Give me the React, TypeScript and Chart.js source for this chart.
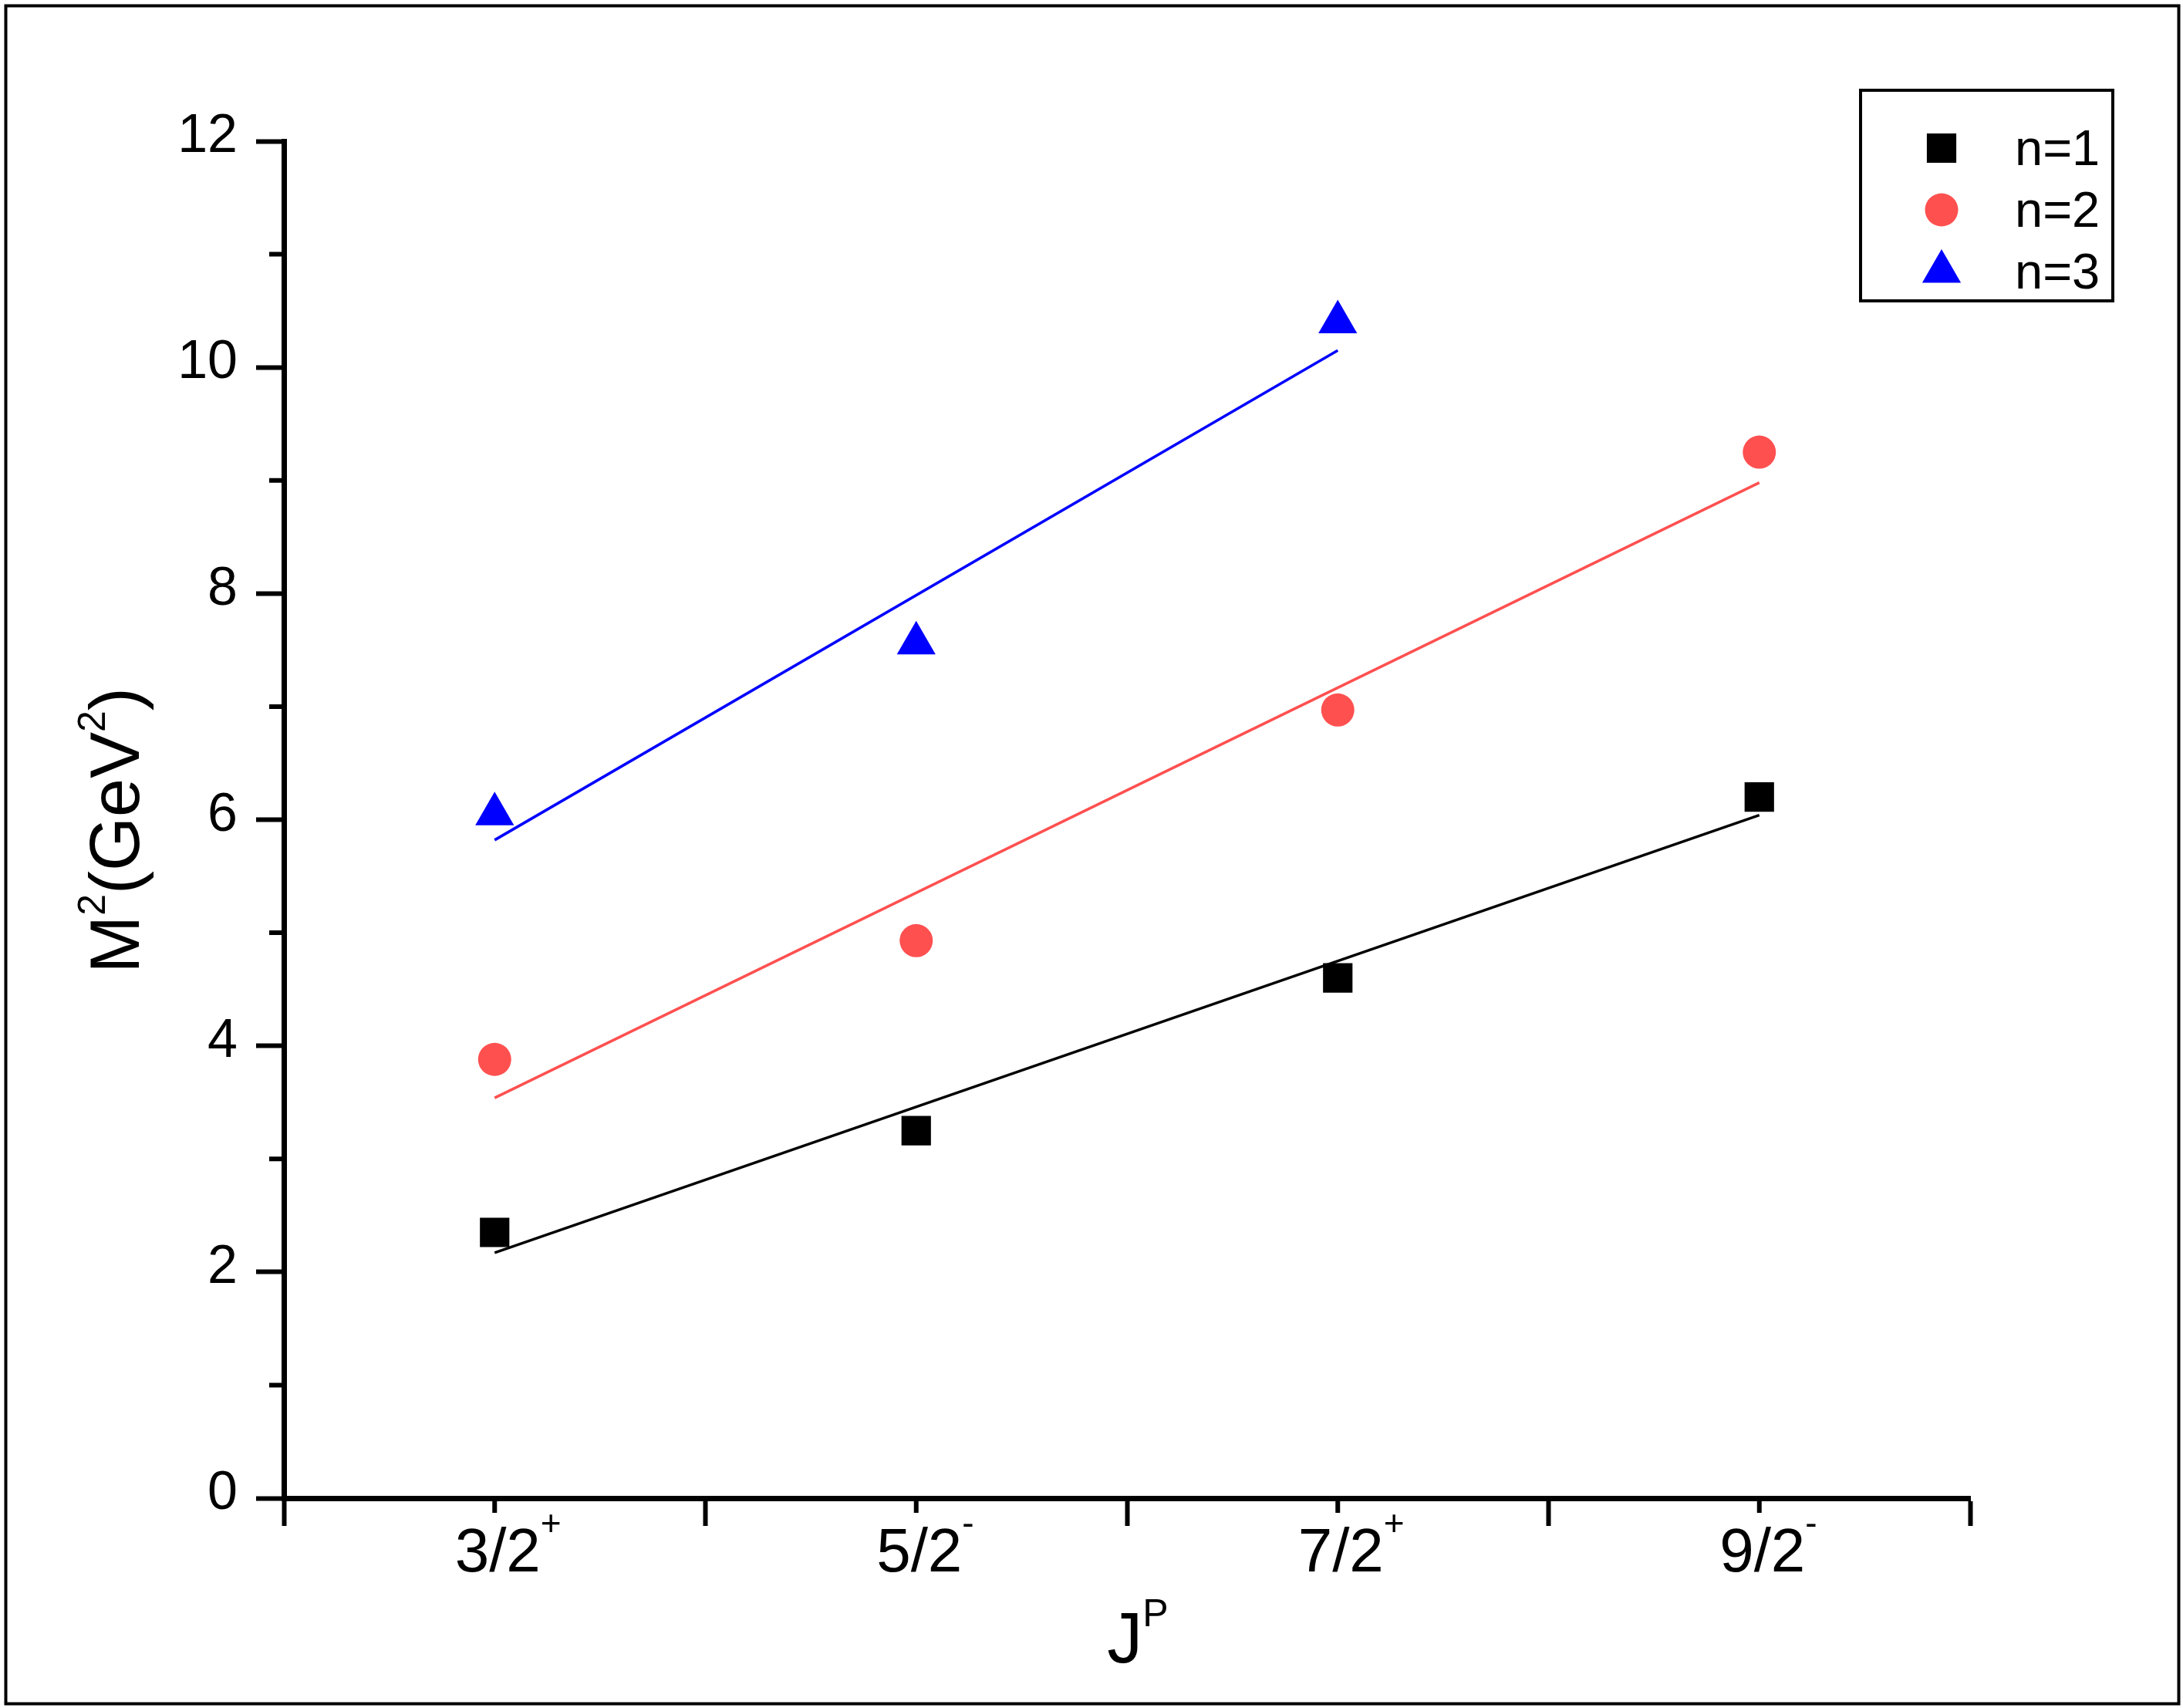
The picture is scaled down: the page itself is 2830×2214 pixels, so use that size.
import React, { useEffect, useRef } from 'react';
import { Chart, registerables } from 'chart.js';

Chart.register(...registerables);

// ---------- data ----------
const categoryLabels = ['3/2', '5/2', '7/2', '9/2'];
const categoryParity = ['+', '-', '+', '-'];
const categoryX = [1, 2, 3, 4];

const n1Values = [2.35, 3.25, 4.6, 6.2];
const n2Values = [3.88, 4.93, 6.97, 9.25];
const n3Values = [6.05, 7.56, 10.4];

const n1FitX = [1, 4];
const n1Fit = [2.17, 6.04];
const n2FitX = [1, 4];
const n2Fit = [3.54, 8.98];
const n3FitX = [1, 3];
const n3Fit = [5.82, 10.15];

const yMajorTicks = [0, 2, 4, 6, 8, 10, 12];
const yMinorTicks = [1, 3, 5, 7, 9, 11];
const xMajorTicks = [0.5, 1.5, 2.5, 3.5, 4.5];

const seriesLabels = ['n=1', 'n=2', 'n=3'];
const seriesColors = ['#000000', '#FF5050', '#0000FF'];
const seriesStyles = ['rect', 'circle', 'triangle'];
const seriesRadius = [27, 21.5, 29];

const FONT = '"Liberation Sans", Arial, Helvetica, sans-serif';

const pts = (xs: number[], ys: number[]) => xs.map((x, i) => ({ x, y: ys[i] }));

function drawMarker(ctx: CanvasRenderingContext2D, style: string, r: number, x: number, y: number) {
  ctx.beginPath();
  if (style === 'rect') {
    const s = Math.SQRT1_2 * r;
    ctx.rect(x - s, y - s, 2 * s, 2 * s);
  } else if (style === 'circle') {
    ctx.arc(x, y, r, 0, Math.PI * 2);
  } else {
    ctx.moveTo(x, y - r);
    ctx.lineTo(x + (Math.sqrt(3) / 2) * r, y + r / 2);
    ctx.lineTo(x - (Math.sqrt(3) / 2) * r, y + r / 2);
    ctx.closePath();
  }
  ctx.fill();
}

// draws base text segments and superscripts; centred either on the whole
// run (centerBaseOnly = false) or on the first base segment only
function drawSupText(
  ctx: CanvasRenderingContext2D,
  parts: { t: string; sup?: boolean }[],
  cx: number,
  baseline: number,
  baseSize: number,
  supSize: number,
  supRise: number,
  centerBaseOnly = false
) {
  const fb = `${baseSize}px ${FONT}`;
  const fs = `${supSize}px ${FONT}`;
  let total = 0;
  const widths = parts.map((p) => {
    ctx.font = p.sup ? fs : fb;
    const w = ctx.measureText(p.t).width;
    total += w;
    return w;
  });
  let x = cx - (centerBaseOnly ? widths[0] : total) / 2;
  ctx.textAlign = 'left';
  ctx.textBaseline = 'alphabetic';
  parts.forEach((p, i) => {
    ctx.font = p.sup ? fs : fb;
    ctx.fillText(p.t, x, p.sup ? baseline - supRise : baseline);
    x += widths[i];
  });
}

const decorPlugin = {
  id: 'decor',
  afterDraw(chart: any) {
    const ctx: CanvasRenderingContext2D = chart.ctx;
    const xs = chart.scales.x;
    const ys = chart.scales.y;
    const area = chart.chartArea;
    ctx.save();
    ctx.fillStyle = '#000';
    ctx.strokeStyle = '#000';

    // outer frame
    ctx.lineWidth = 4;
    ctx.strokeRect(7.5, 7.5, chart.width - 13, chart.height - 13);

    // minor ticks
    ctx.lineWidth = 6;
    ctx.beginPath();
    yMinorTicks.forEach((v) => {
      const p = ys.getPixelForValue(v);
      ctx.moveTo(area.left, p);
      ctx.lineTo(area.left - 19, p);
    });
    categoryX.forEach((v) => {
      const p = xs.getPixelForValue(v);
      ctx.moveTo(p, area.bottom);
      ctx.lineTo(p, area.bottom + 19);
    });
    ctx.stroke();

    // x category labels with superscript parity
    categoryX.forEach((v, i) => {
      const p = xs.getPixelForValue(v);
      drawSupText(
        ctx,
        [{ t: categoryLabels[i] }, { t: categoryParity[i], sup: true }],
        p + 4,
        area.bottom + 95,
        80,
        46,
        47,
        true
      );
    });

    // x title J^P
    drawSupText(
      ctx,
      [{ t: 'J' }, { t: 'P', sup: true }],
      (area.left + area.right) / 2 + 14,
      area.bottom + 213,
      92,
      50,
      47
    );

    // y title M^2(GeV^2)
    ctx.save();
    ctx.translate(180, (area.top + area.bottom) / 2 + 14);
    ctx.rotate(-Math.PI / 2);
    drawSupText(
      ctx,
      [{ t: 'M' }, { t: '2', sup: true }, { t: '(GeV' }, { t: '2', sup: true }, { t: ')' }],
      0,
      0,
      90,
      50,
      44
    );
    ctx.restore();

    // legend
    const bx = area.right - 142;
    const by = 117;
    ctx.lineWidth = 4;
    ctx.strokeRect(bx, by, 327, 273);
    seriesLabels.forEach((lab, i) => {
      const cy = by + 75 + i * 80;
      ctx.fillStyle = seriesColors[i];
      drawMarker(ctx, seriesStyles[i], seriesRadius[i], bx + 105, cy);
      ctx.fillStyle = '#000';
      ctx.font = `65px ${FONT}`;
      ctx.textAlign = 'left';
      ctx.textBaseline = 'alphabetic';
      ctx.fillText(lab, bx + 200, cy + 22);
    });

    ctx.restore();
  },
};

export default function App() {
  const canvasRef = useRef<HTMLCanvasElement | null>(null);

  useEffect(() => {
    document.body.style.margin = '0';
    const canvas = canvasRef.current;
    if (!canvas) return;

    const scatterSet = (i: number, xs: number[], ys: number[]) => ({
      type: 'scatter' as const,
      label: seriesLabels[i],
      data: pts(xs, ys),
      pointStyle: seriesStyles[i],
      pointRadius: seriesRadius[i],
      pointBackgroundColor: seriesColors[i],
      pointBorderColor: seriesColors[i],
      pointBorderWidth: 0,
      backgroundColor: seriesColors[i],
      borderColor: seriesColors[i],
      showLine: false,
      order: 0,
    });
    const fitSet = (i: number, xs: number[], ys: number[]) => ({
      type: 'scatter' as const,
      label: seriesLabels[i] + ' fit',
      data: pts(xs, ys),
      showLine: true,
      borderColor: seriesColors[i],
      borderWidth: 3.5,
      pointRadius: 0,
      fill: false,
      tension: 0,
      order: 1,
    });

    const gridOpts = {
      display: true,
      drawOnChartArea: false,
      drawTicks: true,
      tickLength: 36,
      tickWidth: 6,
      tickColor: '#000',
    };

    const chart = new Chart(canvas, {
      type: 'scatter',
      data: {
        datasets: [
          fitSet(0, n1FitX, n1Fit),
          fitSet(1, n2FitX, n2Fit),
          fitSet(2, n3FitX, n3Fit),
          scatterSet(0, categoryX, n1Values),
          scatterSet(1, categoryX, n2Values),
          scatterSet(2, categoryX.slice(0, n3Values.length), n3Values),
        ] as any,
      },
      options: {
        responsive: false,
        animation: false,
        layout: { padding: { left: 0, top: 183, right: 276, bottom: 0 } },
        plugins: { legend: { display: false }, tooltip: { enabled: false } },
        scales: {
          x: {
            type: 'linear',
            min: 0.5,
            max: 4.5,
            afterBuildTicks: (s: any) => {
              s.ticks = xMajorTicks.map((v) => ({ value: v }));
            },
            afterFit: (s: any) => {
              s.height = 272;
            },
            ticks: { display: false },
            grid: gridOpts,
            border: { display: true, width: 7, color: '#000' },
          },
          y: {
            type: 'linear',
            min: 0,
            max: 12,
            afterBuildTicks: (s: any) => {
              s.ticks = yMajorTicks.map((v) => ({ value: v }));
            },
            afterFit: (s: any) => {
              s.width = 368;
            },
            ticks: {
              font: { size: 70, family: FONT },
              color: '#000',
              padding: 24,
              labelOffset: -5,
            },
            grid: gridOpts,
            border: { display: true, width: 7, color: '#000' },
          },
        },
      } as any,
      plugins: [decorPlugin],
    });

    return () => chart.destroy();
  }, []);

  return (
    <div style={{ width: 2830, height: 2214, background: '#fff' }}>
      <canvas
        ref={canvasRef}
        width={2830}
        height={2214}
        style={{ display: 'block', width: 2830, height: 2214 }}
      />
    </div>
  );
}
